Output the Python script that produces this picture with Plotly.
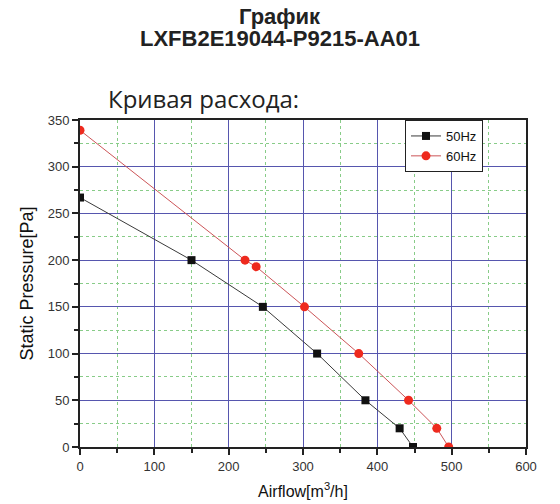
import plotly.graph_objects as go

# airflow [m3/h] and static pressure [Pa]
flow_50 = [0, 150, 246, 319, 384, 430, 448]
pres_50 = [267, 200, 150, 100, 50, 20, 0]

flow_60 = [0, 222, 237, 302, 375, 442, 480, 496]
pres_60 = [339, 200, 193, 150, 100, 50, 20, 0]

x_ticks = [0, 100, 200, 300, 400, 500, 600]
y_ticks = [0, 50, 100, 150, 200, 250, 300, 350]

# page adds an 8px body margin, so the figure is laid out 8px smaller
W, H = 552, 496
ML, MR, MT, MB = 72, 34, 112, 57
plot_w = W - ML - MR
plot_h = H - MT - MB


def px_x(p):
    # reference pixel -> paper x
    return (p - 8 - ML) / plot_w


def px_y(p):
    # reference pixel -> paper y
    return 1 + (MT - (p - 8)) / plot_h


fig = go.Figure()

fig.add_trace(go.Scatter(
    x=flow_50, y=pres_50, name="50Hz", mode="lines+markers",
    line=dict(color="#3a3a3a", width=1),
    marker=dict(symbol="square", size=8, color="#111111"),
))
fig.add_trace(go.Scatter(
    x=flow_60, y=pres_60, name="60Hz", mode="lines+markers",
    line=dict(color="#cc5558", width=1),
    marker=dict(symbol="circle", size=9, color="#ee2a1e"),
))

axis_style = dict(
    showline=True, linecolor="#222222", linewidth=2, mirror=True,
    ticks="outside", ticklen=6, tickwidth=1.5, tickcolor="#222222",
    showgrid=True, gridcolor="#5656ae", gridwidth=1,
    zeroline=False, automargin=False,
    tickfont=dict(family="Liberation Sans, Arial", size=13, color="#333333"),
)

minor_style = dict(showgrid=True, gridcolor="#88cc88", griddash="dot",
                   gridwidth=1, ticks="outside", ticklen=4,
                   tickcolor="#222222")

fig.update_xaxes(
    range=[0, 600], tickvals=x_ticks,
    title=dict(text="Airflow[m<sup>3</sup>/h]", standoff=13,
               font=dict(family="Liberation Sans, Arial", size=16, color="#111111")),
    minor=dict(dtick=50, tick0=0, **minor_style),
    **axis_style,
)
fig.update_yaxes(
    range=[0, 350], tickvals=y_ticks,
    title=dict(text="Static Pressure[Pa]", standoff=9,
               font=dict(family="Liberation Sans, Arial", size=18, color="#111111")),
    minor=dict(dtick=25, tick0=0, **minor_style),
    **axis_style,
)

fig.update_layout(
    width=W, height=H,
    margin=dict(l=ML, r=MR, t=MT, b=MB),
    paper_bgcolor="white", plot_bgcolor="white",
    showlegend=True,
    legend=dict(
        x=px_x(405), y=1.0, xanchor="left", yanchor="top",
        bgcolor="white", bordercolor="#222222", borderwidth=1,
        font=dict(family="Liberation Sans, Arial", size=13, color="#111111"),
        tracegroupgap=0, itemwidth=30,
    ),
    annotations=[
        dict(text="<b>График</b>", xref="paper", yref="paper",
             x=px_x(280), y=px_y(17), xanchor="center", yanchor="middle",
             showarrow=False,
             font=dict(family="Liberation Sans, Arial", size=22, color="#222222")),
        dict(text="<b>LXFB2E19044-P9215-AA01</b>", xref="paper", yref="paper",
             x=px_x(280), y=px_y(38), xanchor="center", yanchor="middle",
             showarrow=False,
             font=dict(family="Liberation Sans, Arial", size=22, color="#222222")),
        dict(text="Кривая расхода:", xref="paper", yref="paper",
             x=px_x(106), y=px_y(99), xanchor="left", yanchor="middle",
             showarrow=False,
             font=dict(family="Open Sans, Noto Sans", size=24, color="#222222")),
    ],
)

fig.write_html("out.html")
